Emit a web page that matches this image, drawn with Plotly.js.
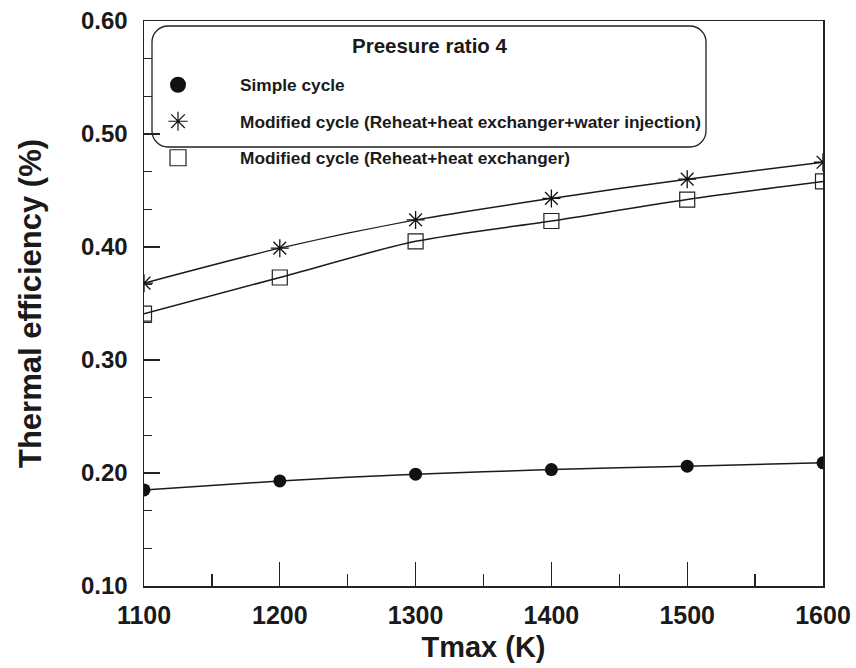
<!DOCTYPE html>
<html>
<head>
<meta charset="utf-8">
<script src="https://cdn.plot.ly/plotly-3.0.1.min.js"></script>
<style>html,body{margin:0;padding:0;background:#fff;}#chart{width:856px;height:668px;}</style>
</head>
<body>
<div id="chart"></div>
<script>
const tmax = [1100, 1200, 1300, 1400, 1500, 1600];
const simpleCycle = [0.185, 0.193, 0.199, 0.203, 0.206, 0.209];
const modifiedWater = [0.368, 0.399, 0.424, 0.443, 0.460, 0.475];
const modifiedHX = [0.341, 0.373, 0.405, 0.423, 0.442, 0.458];
const seriesNames = ['Simple cycle', 'Modified cycle (Reheat+heat exchanger+water injection)', 'Modified cycle (Reheat+heat exchanger)'];
const legendTitle = 'Preesure ratio 4';
const yTicks = [0.10, 0.20, 0.30, 0.40, 0.50, 0.60];
const xTicks = [1100, 1200, 1300, 1400, 1500, 1600];

const FONT = 'Liberation Sans, Arial, sans-serif';
const line = {color: '#1a1a1a', width: 1.5, shape: 'spline', smoothing: 0.8};

const traces = [
  {x: tmax, y: simpleCycle, mode: 'lines+markers', line: line, showlegend: false,
   marker: {symbol: 'circle', size: 13, color: '#111'}},
  {x: tmax, y: modifiedWater, mode: 'lines+markers', line: line, showlegend: false,
   marker: {symbol: 'asterisk-open', size: 15, color: '#111', line: {width: 1.3, color: '#111'}}},
  {x: tmax, y: modifiedHX, mode: 'lines+markers', line: line, showlegend: false,
   marker: {symbol: 'square-open', size: 15, color: '#222', line: {width: 1.2, color: '#222'}}},
  // legend entries (markers only)
  {x: [null], y: [null], mode: 'markers', name: seriesNames[0], legendgroup: 'a',
   marker: {symbol: 'circle', size: 16, color: '#111'}},
  {x: [null], y: [null], mode: 'markers', name: seriesNames[1], legendgroup: 'b',
   marker: {symbol: 'asterisk-open', size: 16, color: '#111', line: {width: 1.2, color: '#111'}}},
  {x: [null], y: [null], mode: 'markers', name: seriesNames[2], legendgroup: 'c',
   marker: {symbol: 'square-open', size: 16, color: '#222', line: {width: 1.2, color: '#222'}}}
];

const L = 144, R = 823, T = 21, B = 586;
const W = R - L, H = B - T;
function px(x) { return (x - L) / W; }
function py(y) { return (B - y) / H; }
const bx0 = 152, bx1 = 706, by0 = 26, by1 = 147, rr = 16;
const k = 0.45;
const boxPath = [
  `M ${px(bx0 + rr)} ${py(by0)}`,
  `L ${px(bx1 - rr)} ${py(by0)}`,
  `C ${px(bx1 - rr * k)} ${py(by0)} ${px(bx1)} ${py(by0 + rr * k)} ${px(bx1)} ${py(by0 + rr)}`,
  `L ${px(bx1)} ${py(by1 - rr)}`,
  `C ${px(bx1)} ${py(by1 - rr * k)} ${px(bx1 - rr * k)} ${py(by1)} ${px(bx1 - rr)} ${py(by1)}`,
  `L ${px(bx0 + rr)} ${py(by1)}`,
  `C ${px(bx0 + rr * k)} ${py(by1)} ${px(bx0)} ${py(by1 - rr * k)} ${px(bx0)} ${py(by1 - rr)}`,
  `L ${px(bx0)} ${py(by0 + rr)}`,
  `C ${px(bx0)} ${py(by0 + rr * k)} ${px(bx0 + rr * k)} ${py(by0)} ${px(bx0 + rr)} ${py(by0)}`,
  'Z'
].join(' ');

const layout = {
  width: 856, height: 668,
  margin: {l: L, r: 856 - R, t: T, b: 668 - B},
  paper_bgcolor: '#fff', plot_bgcolor: '#fff',
  font: {family: FONT, color: '#1a1a1a'},
  showlegend: true,
  legend: {
    x: px(116), y: py(67), xanchor: 'left', yanchor: 'top',
    bgcolor: 'rgba(0,0,0,0)', borderwidth: 0,
    itemwidth: 114, traceorder: 'grouped', tracegroupgap: 11,
    font: {family: FONT, size: 17.3, color: '#1a1a1a', weight: 'bold'},
    itemclick: false
  },
  xaxis: {
    range: [1100, 1600], tickvals: xTicks, ticktext: xTicks.map(String),
    ticks: 'inside', ticklen: 24, tickwidth: 1.2, tickcolor: '#222',
    minor: {dtick: 50, ticks: 'inside', ticklen: 12, tickwidth: 1.2, tickcolor: '#222'},
    showline: true, linecolor: '#222', linewidth: 1.5, mirror: true,
    showgrid: false, zeroline: false, ticklabelstandoff: 6,
    tickfont: {family: FONT, size: 25, weight: 'bold', color: '#1a1a1a'},
    title: {text: 'Tmax (K)', font: {family: FONT, size: 29, weight: 'bold', color: '#1a1a1a'}, standoff: 9}
  },
  yaxis: {
    range: [0.10, 0.60], tickvals: yTicks, ticktext: yTicks.map(v => v.toFixed(2)),
    ticks: 'inside', ticklen: 16, tickwidth: 1.2, tickcolor: '#222',
    minor: {tick0: 0.1, dtick: 0.1 / 3, ticks: 'inside', ticklen: 8, tickwidth: 1.2, tickcolor: '#222'},
    showline: true, linecolor: '#222', linewidth: 1.5, mirror: true,
    showgrid: false, zeroline: false, ticklabelstandoff: 10,
    tickfont: {family: FONT, size: 24, weight: 'bold', color: '#1a1a1a'},
    title: {text: 'Thermal efficiency (%)', font: {family: FONT, size: 31, weight: 'bold', color: '#1a1a1a'}, standoff: 30}
  },
  shapes: [
    {type: 'path', xref: 'paper', yref: 'paper', path: boxPath, line: {color: '#222', width: 1.3}, fillcolor: 'rgba(0,0,0,0)', layer: 'above'}
  ],
  annotations: [
    {xref: 'paper', yref: 'paper', x: px(430), y: py(46), text: legendTitle, showarrow: false,
     xanchor: 'center', yanchor: 'middle', font: {family: FONT, size: 20.5, weight: 'bold', color: '#1a1a1a'}}
  ]
};

Plotly.newPlot('chart', traces, layout, {displayModeBar: false, staticPlot: true});
</script>
</body>
</html>
